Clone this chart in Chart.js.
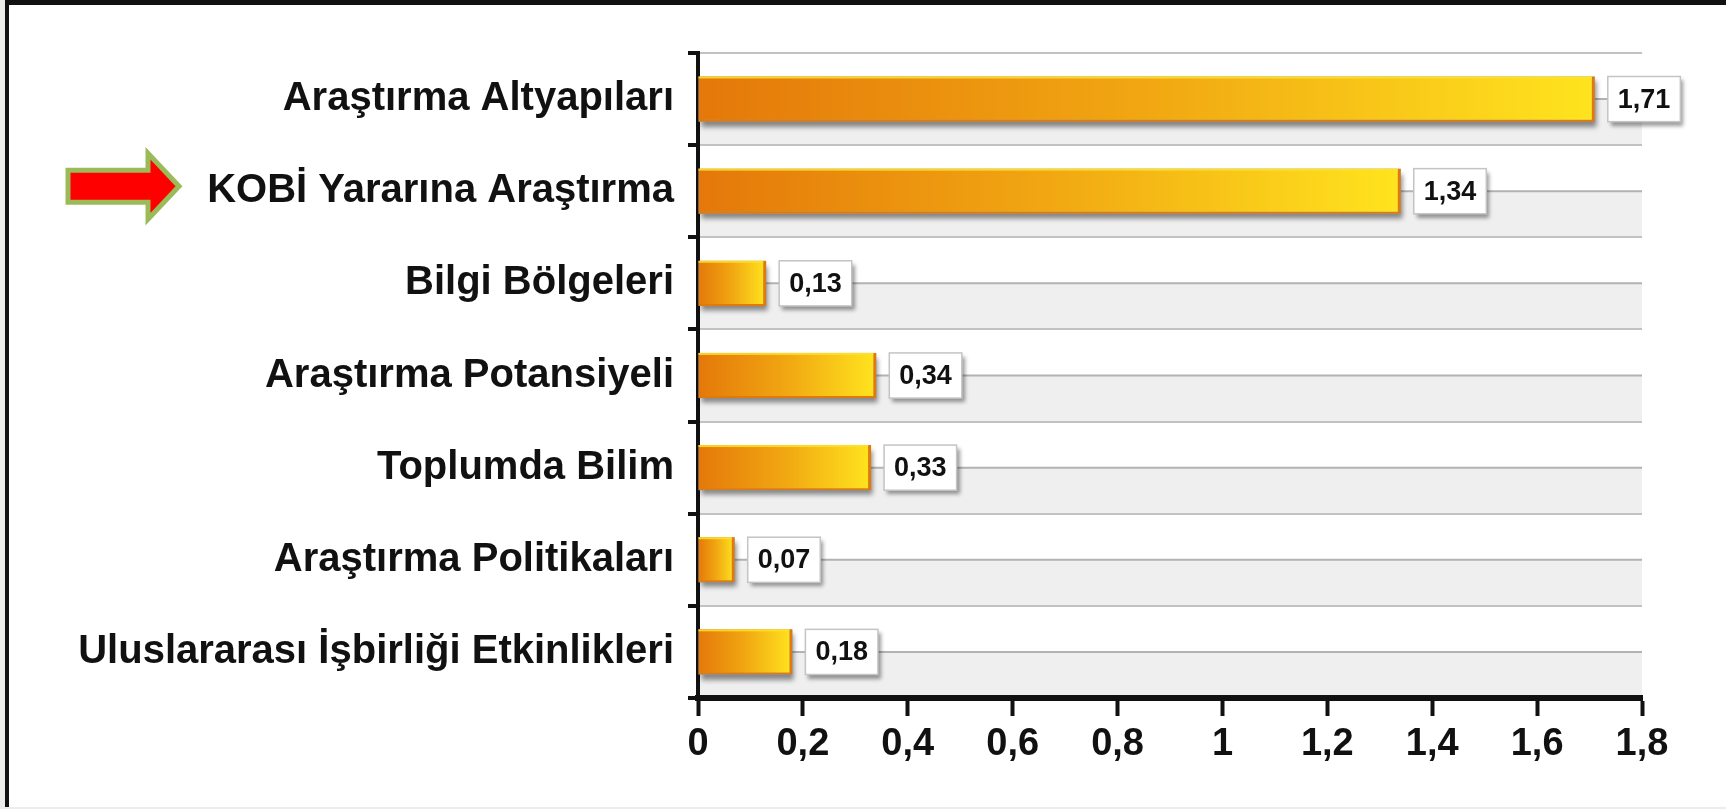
<!DOCTYPE html>
<html>
<head>
<meta charset="utf-8">
<title>Araştırma alanları</title>
<script src="https://cdn.jsdelivr.net/npm/chart.js@4.4.1/dist/chart.umd.min.js"></script>
<style>
  html, body { margin: 0; padding: 0; background: #ffffff; }
  #wrap { position: relative; width: 1726px; height: 809px; overflow: hidden; background: #ececea; }
  #frame { position: absolute; left: 5px; top: 0; width: 1721px; height: 807px; background: #ffffff;
           border-top: 5px solid #111111; border-left: 4px solid #111111; box-sizing: border-box; }
  #chart { position: absolute; left: 0; top: 0; }
</style>
</head>
<body>
<div id="wrap">
  <div id="frame"></div>
  <canvas id="chart" width="1726" height="809"></canvas>
</div>
<script>
'use strict';

var categories = [
  'Araştırma Altyapıları',
  'KOBİ Yararına Araştırma',
  'Bilgi Bölgeleri',
  'Araştırma Potansiyeli',
  'Toplumda Bilim',
  'Araştırma Politikaları',
  'Uluslararası İşbirliği Etkinlikleri'
];
var values = [1.71, 1.34, 0.13, 0.34, 0.33, 0.07, 0.18];
var xTickLabels = ['0', '0,2', '0,4', '0,6', '0,8', '1', '1,2', '1,4', '1,6', '1,8'];
var highlightIndex = 1;

(function () {

  var fontFamily = "'Liberation Sans', Arial, Helvetica, sans-serif";

  function formatValue(v) {
    return v.toFixed(2).replace('.', ',');
  }

  function barGradient(context) {
    var chart = context.chart;
    if (!chart.chartArea) {
      return '#f0a010';
    }
    var x0 = chart.scales.x.getPixelForValue(0);
    var x1 = chart.scales.x.getPixelForValue(context.raw);
    var g = chart.ctx.createLinearGradient(x0, 0, x1, 0);
    g.addColorStop(0, '#e4780a');
    g.addColorStop(0.5, '#f1a712');
    g.addColorStop(1, '#ffe41e');
    return g;
  }

  // striped background + gridline through the middle of each category
  var stripes = {
    id: 'stripes',
    beforeDraw: function (chart) {
      var c = chart.ctx;
      var a = chart.chartArea;
      var y = chart.scales.y;
      var half = (y.getPixelForValue(1) - y.getPixelForValue(0)) / 2;
      c.save();
      categories.forEach(function (name, i) {
        var cy = y.getPixelForValue(i);
        c.fillStyle = '#efefef';
        c.fillRect(a.left, cy, a.right - a.left, half);
        c.strokeStyle = '#b2b2b2';
        c.lineWidth = 2;
        c.beginPath();
        c.moveTo(a.left, cy);
        c.lineTo(a.right, cy);
        c.stroke();
      });
      c.restore();
    }
  };

  var barShadows = {
    id: 'barShadows',
    beforeDatasetsDraw: function (chart) {
      var c = chart.ctx;
      c.save();
      c.shadowColor = 'rgba(0,0,0,0.45)';
      c.shadowBlur = 5;
      c.shadowOffsetX = 2;
      c.shadowOffsetY = 5;
      c.fillStyle = '#999999';
      chart.getDatasetMeta(0).data.forEach(function (bar) {
        var p = bar.getProps(['x', 'y', 'base', 'height'], true);
        c.fillRect(p.base, p.y - p.height / 2, p.x - p.base, p.height);
      });
      c.restore();
    }
  };

  // thin yellow highlight on top of each bar
  var barHighlight = {
    id: 'barHighlight',
    afterDatasetsDraw: function (chart) {
      var c = chart.ctx;
      c.save();
      c.fillStyle = 'rgba(255,225,40,0.85)';
      chart.getDatasetMeta(0).data.forEach(function (bar) {
        var p = bar.getProps(['x', 'y', 'base', 'height'], true);
        c.fillRect(p.base, p.y - p.height / 2, p.x - p.base - 3, 2);
      });
      c.restore();
    }
  };

  var valueBoxes = {
    id: 'valueBoxes',
    afterDatasetsDraw: function (chart) {
      var c = chart.ctx;
      c.save();
      c.font = 'bold 27px ' + fontFamily;
      c.textAlign = 'center';
      c.textBaseline = 'middle';
      chart.getDatasetMeta(0).data.forEach(function (bar, i) {
        var p = bar.getProps(['x', 'y', 'height'], true);
        var txt = formatValue(values[i]);
        var w = c.measureText(txt).width + 20;
        var h = p.height;
        var bx = p.x + 13;
        var by = p.y - h / 2;
        c.save();
        c.shadowColor = 'rgba(0,0,0,0.4)';
        c.shadowBlur = 4;
        c.shadowOffsetX = 3;
        c.shadowOffsetY = 4;
        c.fillStyle = '#ffffff';
        c.fillRect(bx, by, w, h);
        c.restore();
        c.strokeStyle = '#c4c4c4';
        c.lineWidth = 1.5;
        c.strokeRect(bx, by, w, h);
        c.fillStyle = '#111111';
        c.fillText(txt, bx + w / 2, p.y + 1);
      });
      c.restore();
    }
  };

  var arrow = {
    id: 'arrow',
    afterDraw: function (chart) {
      var c = chart.ctx;
      var cy = chart.scales.y.getPixelForValue(highlightIndex) - 5;
      c.save();
      c.beginPath();
      c.moveTo(68, cy - 16);
      c.lineTo(148, cy - 16);
      c.lineTo(148, cy - 33);
      c.lineTo(179, cy);
      c.lineTo(148, cy + 33);
      c.lineTo(148, cy + 16);
      c.lineTo(68, cy + 16);
      c.closePath();
      c.fillStyle = '#ff0000';
      c.fill();
      c.lineJoin = 'miter';
      c.lineWidth = 5;
      c.strokeStyle = '#9bbb59';
      c.stroke();
      c.restore();
    }
  };

  var ctx = document.getElementById('chart');
  var myChart = new Chart(ctx, {
    type: 'bar',
    data: {
      labels: categories,
      datasets: [{
        data: values,
        backgroundColor: barGradient,
        borderColor: '#e27a0a',
        borderWidth: { top: 0, right: 3, bottom: 2, left: 0 },
        borderSkipped: false,
        categoryPercentage: 1,
        barPercentage: 0.49
      }]
    },
    options: {
      indexAxis: 'y',
      responsive: false,
      animation: false,
      devicePixelRatio: 1,
      layout: {
        padding: { left: 0, top: 53, right: 84, bottom: 41 }
      },
      plugins: {
        legend: { display: false },
        tooltip: { enabled: false }
      },
      scales: {
        x: {
          min: 0,
          max: 1.8,
          ticks: {
            stepSize: 0.2,
            color: '#111111',
            padding: 6,
            font: { family: fontFamily, size: 38, weight: 'bold' },
            callback: function (value, index) {
              return xTickLabels[index];
            }
          },
          grid: {
            drawOnChartArea: false,
            color: '#000000',
            tickColor: '#111111',
            tickLength: 18,
            tickWidth: 4
          },
          border: { display: true, color: '#111111', width: 6 },
          afterFit: function (scale) { scale.height = 70; }
        },
        y: {
          ticks: {
            color: '#111111',
            padding: 14,
            font: { family: fontFamily, size: 40, weight: 'bold' }
          },
          grid: {
            color: '#c2c2c2',
            lineWidth: 2,
            tickColor: '#111111',
            tickLength: 10,
            tickWidth: 4
          },
          border: { display: true, color: '#111111', width: 4 },
          afterFit: function (scale) { scale.width = 698; }
        }
      }
    },
    plugins: [stripes, barShadows, barHighlight, valueBoxes, arrow]
  });

})();
</script>
</body>
</html>
